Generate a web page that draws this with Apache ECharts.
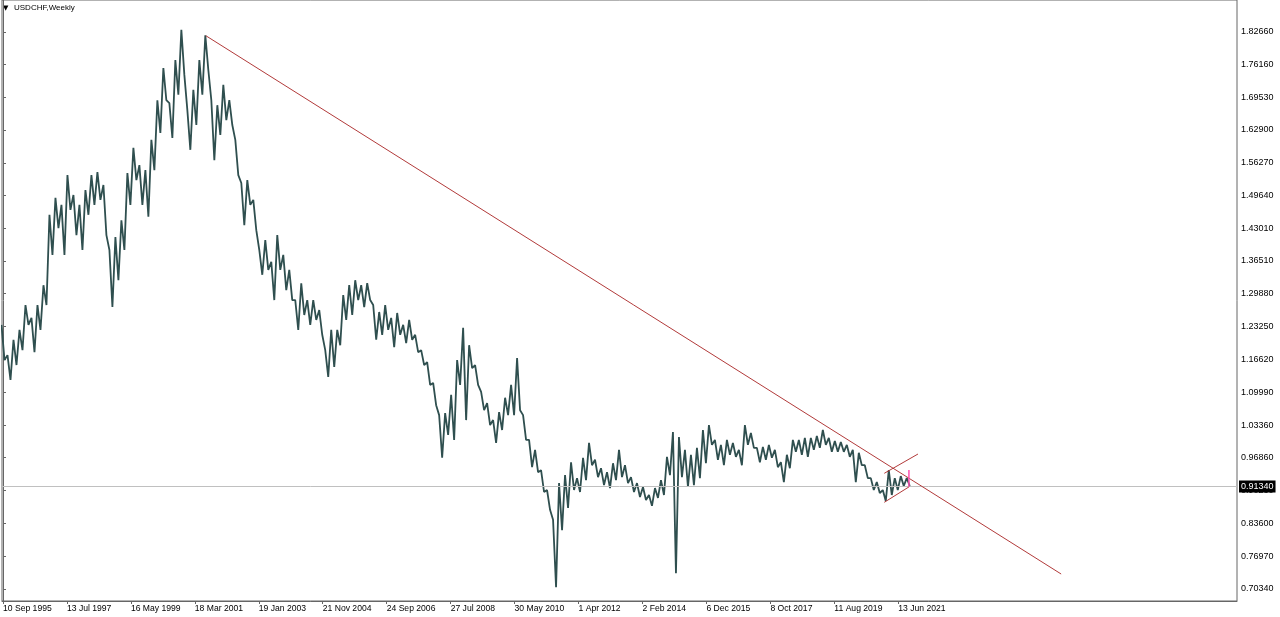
<!DOCTYPE html>
<html><head><meta charset="utf-8">
<script src="https://cdn.jsdelivr.net/npm/echarts@6/dist/echarts.min.js"></script>
<style>html,body{margin:0;padding:0;background:#fff}#c{width:1280px;height:617px}</style>
</head><body><div id="c"></div>
<script>
// ---- data (weeks counted from 10 Sep 1995) ----
const symbolName = 'USDCHF,Weekly';
const sampleStepWeeks = 9;
const highs = [1.236,1.175,1.206,1.226,1.276,1.250,1.276,1.316,1.458,1.492,1.478,1.538,1.498,1.478,1.508,1.538,1.544,1.518,1.387,1.413,
1.447,1.542,1.593,1.558,1.548,1.609,1.689,1.754,1.683,1.770,1.831,1.669,1.710,1.770,1.820,1.689,1.679,1.720,1.689,1.609,
1.522,1.528,1.488,1.387,1.407,1.363,1.417,1.377,1.347,1.286,1.320,1.286,1.286,1.266,1.185,1.226,1.226,1.296,1.316,1.326,
1.316,1.320,1.276,1.262,1.276,1.250,1.260,1.236,1.246,1.216,1.185,1.161,1.119,1.054,1.058,1.095,1.165,1.230,1.195,1.155,
1.101,1.078,1.044,1.060,1.089,1.115,1.169,1.054,1.004,0.984,0.943,0.903,0.843,0.917,0.933,0.959,0.927,0.968,0.998,0.964,
0.947,0.939,0.957,0.984,0.953,0.929,0.917,0.909,0.893,0.907,0.923,0.970,1.020,1.010,0.984,0.974,0.988,1.024,1.034,1.004,
0.994,1.004,0.998,0.984,1.034,1.018,0.988,0.990,0.994,0.984,0.959,0.974,1.004,1.004,1.008,1.008,1.012,1.024,1.008,1.002,
1.000,0.994,0.984,0.978,0.953,0.927,0.919,0.903,0.943,0.927,0.931,0.927];
const lows = [1.165,1.125,1.155,1.185,1.236,1.181,1.226,1.276,1.377,1.431,1.377,1.468,1.417,1.387,1.458,1.478,1.488,1.417,1.272,1.326,
1.387,1.478,1.528,1.478,1.454,1.548,1.623,1.689,1.613,1.700,1.740,1.589,1.639,1.700,1.750,1.568,1.619,1.649,1.639,1.538,
1.437,1.478,1.427,1.337,1.347,1.286,1.347,1.306,1.286,1.226,1.256,1.236,1.246,1.216,1.131,1.151,1.195,1.246,1.256,1.286,
1.272,1.286,1.206,1.216,1.226,1.191,1.216,1.199,1.206,1.181,1.155,1.115,1.074,0.968,1.014,1.004,1.115,1.044,1.149,1.115,
1.064,1.034,0.998,1.024,1.054,1.054,1.064,1.004,0.949,0.939,0.899,0.863,0.707,0.822,0.867,0.903,0.899,0.923,0.953,0.929,
0.913,0.907,0.923,0.929,0.917,0.899,0.889,0.883,0.871,0.887,0.893,0.933,0.735,0.929,0.909,0.913,0.927,0.957,0.994,0.964,
0.953,0.974,0.970,0.953,0.994,0.988,0.959,0.964,0.968,0.949,0.919,0.947,0.980,0.974,0.970,0.984,0.988,0.994,0.980,0.980,
0.980,0.970,0.919,0.953,0.927,0.903,0.897,0.881,0.893,0.903,0.911,0.911];
const lastPrice = 0.9134;
const xTickWeeks = [0,96,192,288,384,480,576,672,768,864,960,1056,1152,1248,1344];
const xTickLabels = ['10 Sep 1995','13 Jul 1997','16 May 1999','18 Mar 2001','19 Jan 2003','21 Nov 2004','24 Sep 2006',
  '27 Jul 2008','30 May 2010','1 Apr 2012','2 Feb 2014','6 Dec 2015','8 Oct 2017','11 Aug 2019','13 Jun 2021'];
const yTickValues = [1.8266,1.7616,1.6953,1.6290,1.5627,1.4964,1.4301,1.3651,1.2988,1.2325,1.1662,1.0999,1.0336,0.9686,0.9023,0.8360,0.7697,0.7034];
const mainTrend = [[304.5,1.8191],[1588.5,0.7336]];
const upperLine = [[1323,0.9367],[1373.6,0.9756]];
const lowerLine = [[1323,0.8782],[1360.5,0.9097]];
const pinkLine = [[1360,0.9433],[1360,0.9097]];

// ---- build ----
const zig = [];
for (let i = 0; i < highs.length; i++) {
  const w = i * sampleStepWeeks;
  zig.push([w - 2.25, highs[i]]);
  zig.push([w + 2.25, lows[i]]);
}
const FONT = 'Liberation Sans';
const chart = echarts.init(document.getElementById('c'), null, {renderer: 'canvas'});
function trend(data, color, w) {
  return {type: 'line', data: data, showSymbol: false, symbol: 'none', silent: true, animation: false,
    lineStyle: {color: color, width: w || 1}, z: 5};
}
chart.setOption({
  animation: false,
  backgroundColor: '#fff',
  grid: {left: 1, right: 43, top: 0, bottom: 16, show: true, borderColor: '#666', borderWidth: 1, backgroundColor: 'transparent'},
  xAxis: {
    type: 'value', min: -1.5, max: 1852.5,
    axisLine: {show: true, lineStyle: {color: '#666'}},
    axisTick: {show: true, customValues: xTickWeeks, length: 3, lineStyle: {color: '#666'}},
    axisLabel: {customValues: xTickWeeks, formatter: v => xTickLabels[xTickWeeks.indexOf(v)] || '',
      align: 'left', margin: 3, fontSize: 8.6, fontFamily: FONT, color: '#000'},
    splitLine: {show: false}
  },
  yAxis: {
    type: 'value', position: 'right', min: 0.6792, max: 1.8911,
    axisLine: {show: true, lineStyle: {color: '#666'}},
    axisTick: {show: true, customValues: yTickValues, length: 3, lineStyle: {color: '#666'}},
    axisLabel: {customValues: yTickValues, formatter: v => v.toFixed(5), margin: 4,
      fontSize: 9, fontFamily: FONT, color: '#000'},
    splitLine: {show: false}
  },
  graphic: [
    {type: 'text', left: 3, top: 5, style: {text: '▼', fontSize: 7, fill: '#000', fontFamily: 'DejaVu Sans'}},
    {type: 'text', left: 14, top: 4, style: {text: symbolName, fontSize: 8, fill: '#000', fontFamily: FONT}}
  ],
  series: [
    {type: 'line', name: 'USDCHF', data: zig, showSymbol: false, symbol: 'none', animation: false,
      lineStyle: {color: '#2f4f4f', width: 1.8, join: 'bevel'}, z: 3,
      markLine: {silent: true, symbol: 'none', animation: false,
        lineStyle: {color: '#c0c0c0', type: 'solid', width: 1},
        label: {position: 'end', formatter: lastPrice.toFixed(5), backgroundColor: '#000', color: '#fff',
          fontSize: 9, fontFamily: FONT, padding: [2, 2, 1, 2], distance: 2},
        data: [{yAxis: lastPrice}]}
    },
    trend(mainTrend, '#b23a3a', 1),
    trend(upperLine, '#b23a3a', 1),
    trend(lowerLine, '#b23a3a', 1),
    trend(pinkLine, '#ff4fb0', 1.5)
  ]
});
</script></body></html>
